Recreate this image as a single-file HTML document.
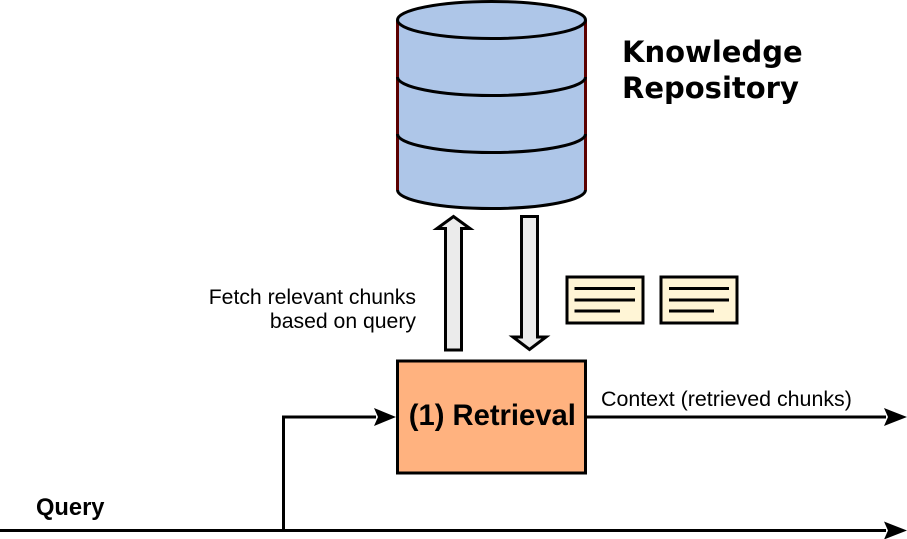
<!DOCTYPE html>
<html>
<head>
<meta charset="utf-8">
<style>
html,body{margin:0;padding:0;background:#fff;}
svg{display:block;}
.s{font-family:"Liberation Sans",sans-serif;fill:#000;}
.d{font-family:"DejaVu Sans",sans-serif;font-weight:bold;fill:#000;}
</style>
</head>
<body>
<svg width="907" height="539" viewBox="0 0 907 539" xmlns="http://www.w3.org/2000/svg">
  <!-- Cylinder -->
  <path d="M397.500 20 V190 C397.500 200 439 208.500 491.500 208.500 C544 208.500 585.500 200 585.500 190 V20 Z" fill="#aec6e8"/>
  <path d="M397.500 20 V190 M585.500 20 V190" fill="none" stroke="#5c0000" stroke-width="3"/>
  <ellipse cx="491.500" cy="20" rx="94" ry="18.500" fill="#aec6e8" stroke="#000" stroke-width="3"/>
  <path d="M397.500 77 C397.500 87 439 95.500 491.500 95.500 C544 95.500 585.500 87 585.500 77" fill="none" stroke="#000" stroke-width="3"/>
  <path d="M397.500 134 C397.500 144 439 152.500 491.500 152.500 C544 152.500 585.500 144 585.500 134" fill="none" stroke="#000" stroke-width="3"/>
  <path d="M397.500 190 C397.500 200 439 208.500 491.500 208.500 C544 208.500 585.500 200 585.500 190" fill="none" stroke="#000" stroke-width="3"/>

  <!-- Block arrows -->
  <path d="M445.500 350 V228.500 H437 L453.500 216.500 L470 228.500 H461.500 V350 Z" fill="#ebebeb" stroke="#000" stroke-width="3"/>
  <path d="M521.500 216.500 H537.500 V337 H546 L529.500 349.500 L513 337 H521.500 Z" fill="#ebebeb" stroke="#000" stroke-width="3"/>

  <!-- Notes -->
  <rect x="567" y="277" width="76" height="46" fill="#fff5d6" stroke="#000" stroke-width="3"/>
  <path d="M574.500 288.500 H635 M574.500 300 H635 M574.500 311 H620" stroke="#000" stroke-width="3" fill="none"/>
  <rect x="661" y="277" width="76" height="46" fill="#fff5d6" stroke="#000" stroke-width="3"/>
  <path d="M669 288.500 H729 M669 300 H729 M669 311 H714" stroke="#000" stroke-width="3" fill="none"/>

  <!-- Retrieval -->
  <rect x="397.500" y="361" width="188" height="112" fill="#ffb27f" stroke="#000" stroke-width="3"/>
  <text class="s" x="492.300" y="425" font-size="29.200" font-weight="bold" text-anchor="middle">(1) Retrieval</text>

  <!-- Connectors -->
  <path d="M0 530.500 H886 M283.500 530.500 V417 H376 M586 417 H886" fill="none" stroke="#000" stroke-width="3"/>
  <path d="M396 417 L374 408 L378 417 L374 426 Z" fill="#000"/>
  <path d="M907 417 L884 408 L888 417 L884 426 Z" fill="#000"/>
  <path d="M907 530.500 L884 521.500 L888 530.500 L884 539.500 Z" fill="#000"/>

  <!-- Labels -->
  <text class="d" x="622" y="62" font-size="29">Knowledge</text>
  <text class="d" x="622" y="98" font-size="29">Repository</text>
  <text class="s" x="416" y="304" font-size="21.200" text-anchor="end">Fetch relevant chunks</text>
  <text class="s" x="416" y="328" font-size="21.200" text-anchor="end">based on query</text>
  <text class="s" x="601" y="406" font-size="21.400">Context (retrieved chunks)</text>
  <text class="s" x="36" y="515" font-size="23.700" font-weight="bold">Query</text>
</svg>
</body>
</html>
